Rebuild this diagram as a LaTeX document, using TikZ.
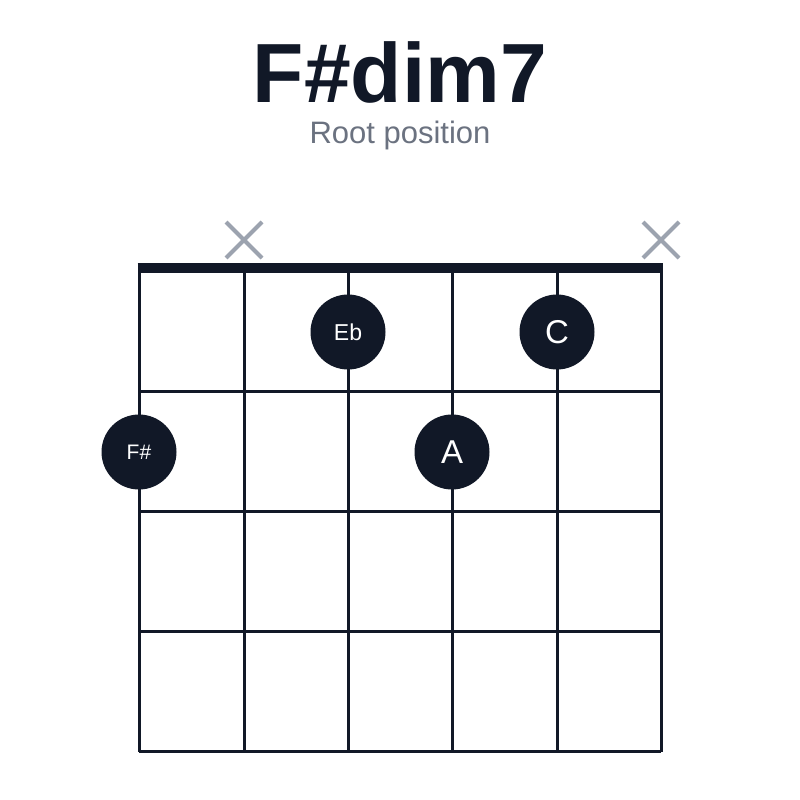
\documentclass[tikz,border=0pt]{standalone}
\usepackage{fontspec}
\setmainfont{Liberation Sans}
\definecolor{ink}{HTML}{111827}
\definecolor{mute}{HTML}{6B7280}
\definecolor{xg}{HTML}{9CA3AF}
\begin{document}
\begin{tikzpicture}[x=1pt,y=-1pt,
  grid/.style={ink,line width=3pt},
  dot/.style={circle,fill=ink,minimum size=75pt,inner sep=0pt,text=white},
  xm/.style={xg,line width=4pt}]
\useasboundingbox (0,0) rectangle (800,800);
\fill[white] (0,0) rectangle (800,800);
\node[ink,font=\bfseries\fontsize{84}{84}\selectfont] (title) at (400,72) {F\#dim7};
\node[mute,font=\fontsize{31}{31}\selectfont] (sub) at (400,135) {Root position};
\foreach \x in {139,244,348,452,557,661} \draw[grid] (\x,268) -- (\x,752);
\foreach \y in {391,511,631,751} \draw[grid] (139,\y) -- (661,\y);
\draw[ink,line width=10pt] (137.5,268) -- (662.5,268);
\foreach \x in {244,661} \draw[xm] (\x-18,222) -- (\x+18,258) (\x-18,258) -- (\x+18,222);
\node[dot,font=\fontsize{21}{21}\selectfont] (fs) at (139,452) {F\#};
\node[dot,font=\fontsize{23}{23}\selectfont] (eb) at (348,332) {Eb};
\node[dot,font=\fontsize{33}{33}\selectfont] (a) at (452,452) {A};
\node[dot,font=\fontsize{33}{33}\selectfont] (c) at (557,332) {C};
\end{tikzpicture}
\end{document}
